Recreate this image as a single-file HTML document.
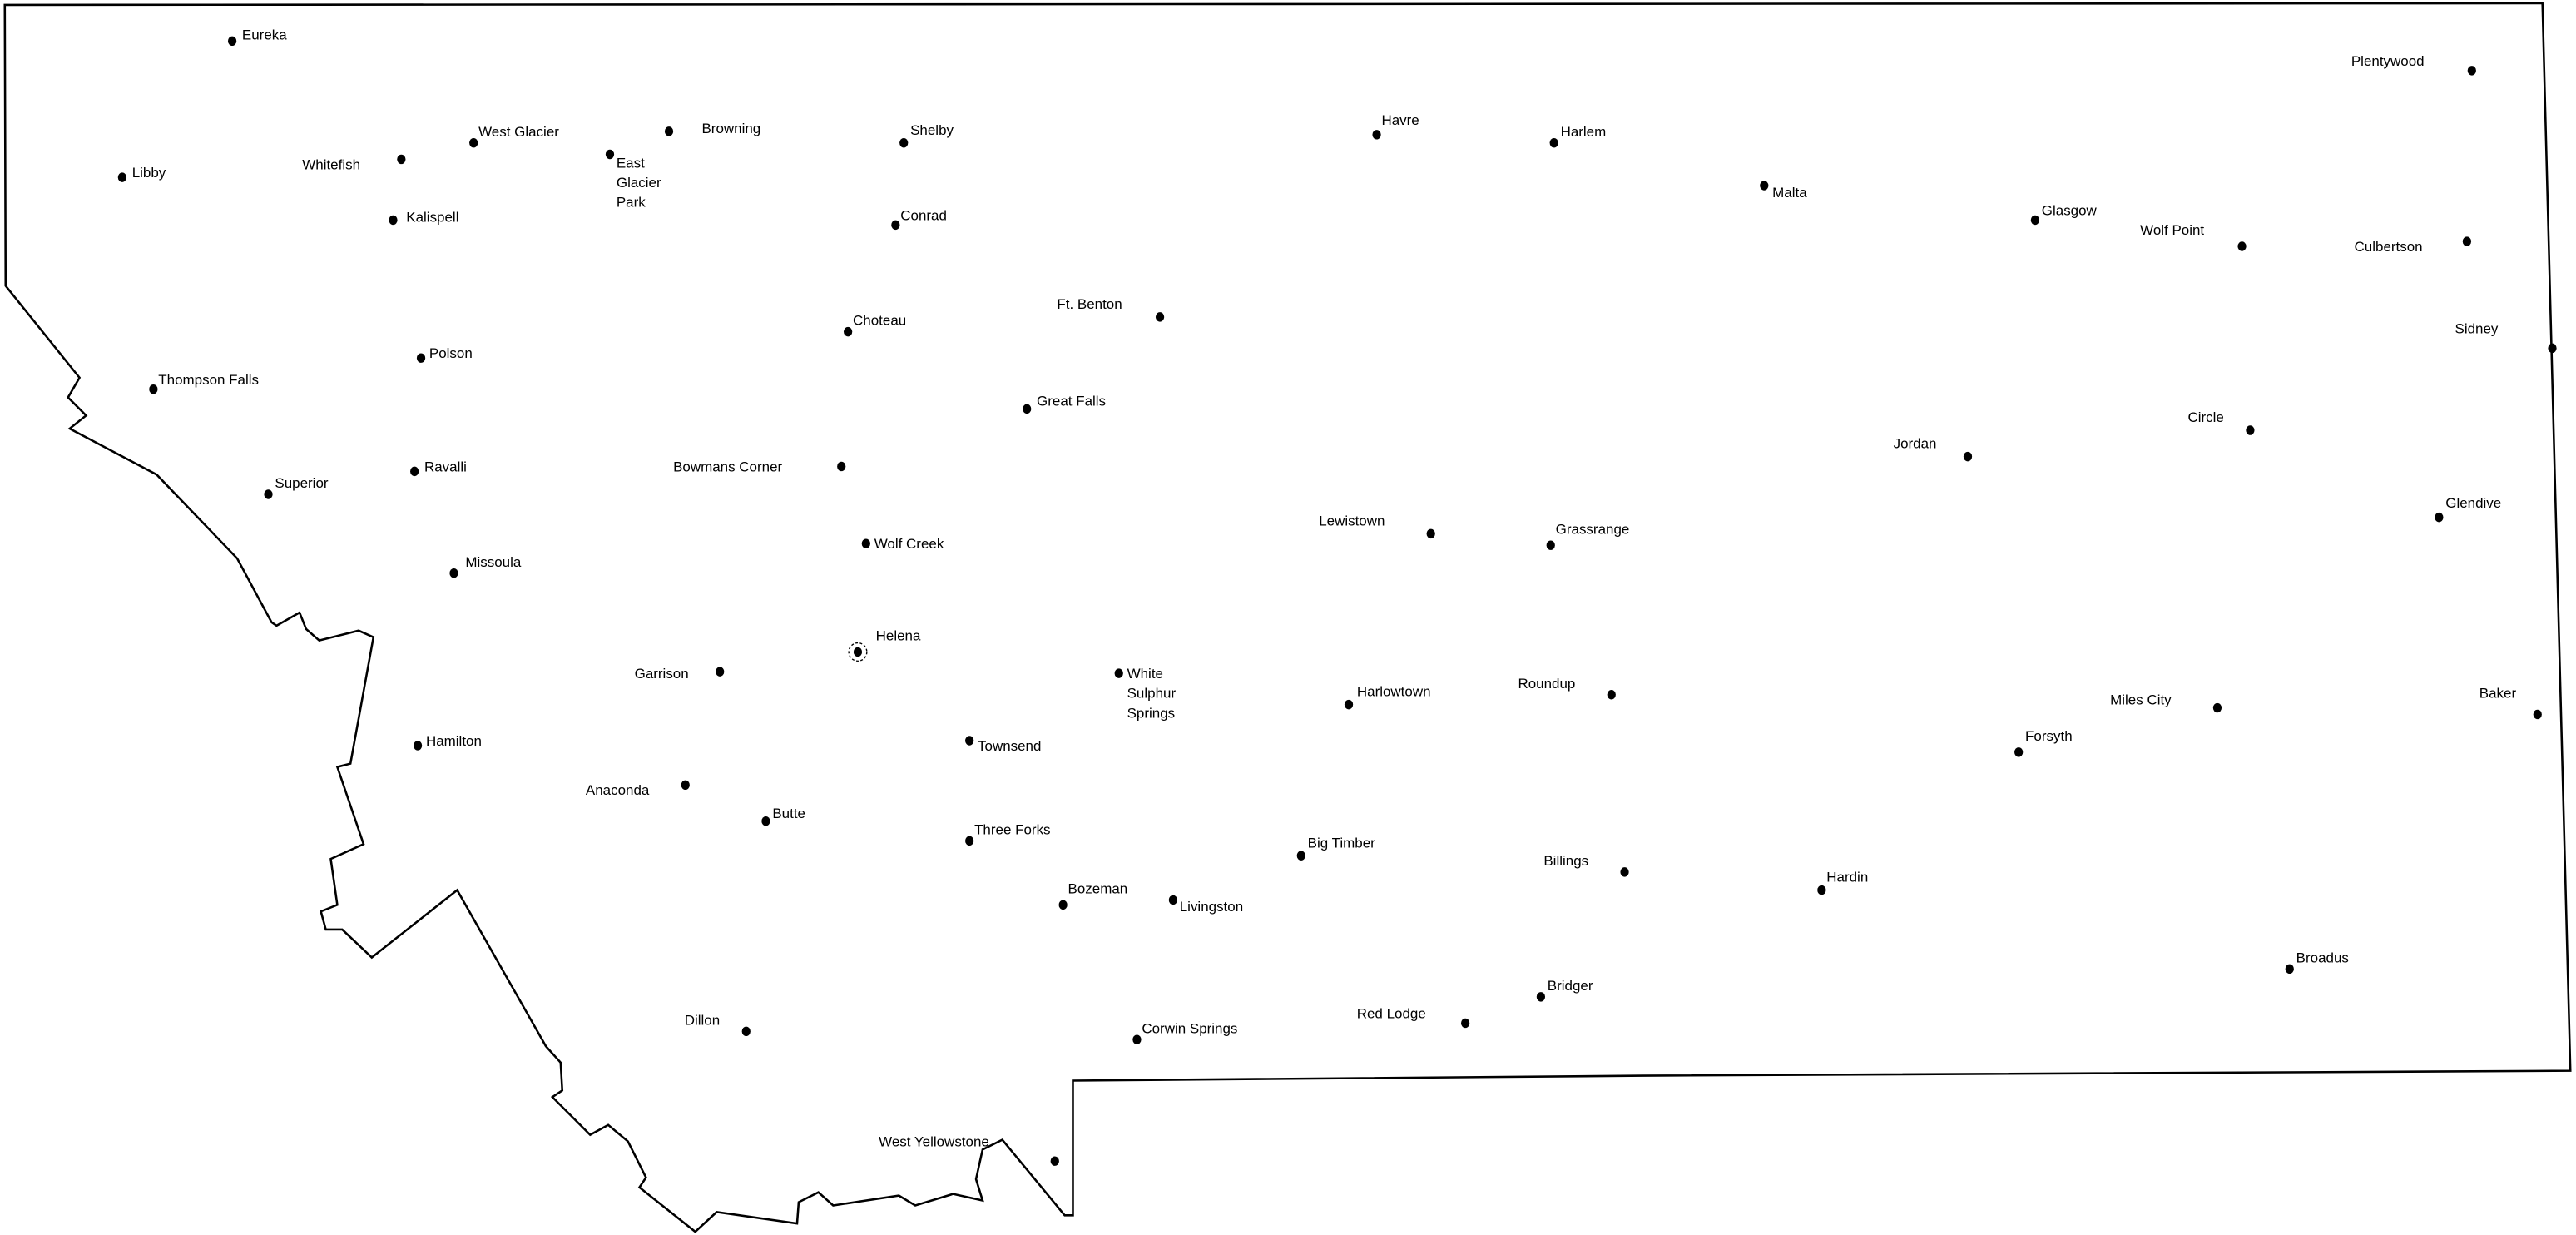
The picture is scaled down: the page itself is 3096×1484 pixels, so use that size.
<!DOCTYPE html>
<html><head><meta charset="utf-8"><style>
html,body{margin:0;padding:0;background:#fff;}
svg{display:block;}
text{font-family:"Liberation Sans",Arial,sans-serif;font-size:8.6px;fill:#000;}
.e{text-anchor:end;}
</style></head><body>
<svg width="3096" height="1484" viewBox="0 0 1568 752" xmlns="http://www.w3.org/2000/svg">
<rect width="1568" height="752" fill="#fff"/>
<polygon fill="none" stroke="#000" stroke-width="1.3" stroke-linejoin="miter" points="
2.5,3 1548,2 1565,652 1000,655 653,658 653,740 648,740 610,694 598,700 594,718 598,731 580,727 557,734 547,728 507,734 498,726 486,732 485,745 436,738 423,750 389,723 393,717 382,695 370,685 359,691 336,668 342,664 341,647 332,637 278,542 226,583 208,566 198,566 195,555 205,551 201,523 221,514 205,467 213,465 227,388 218,384 194,390 186,383 182,373 168,381 165,379 144,340 95,289 42,261 52,253 41,242 48,230 3,174"/>
<g fill="#000">
<ellipse cx="141" cy="25" rx="2.6" ry="2.9"/>
<ellipse cx="74" cy="108" rx="2.6" ry="2.9"/>
<ellipse cx="244" cy="97" rx="2.6" ry="2.9"/>
<ellipse cx="288" cy="87" rx="2.6" ry="2.9"/>
<ellipse cx="371" cy="94" rx="2.6" ry="2.9"/>
<ellipse cx="407" cy="80" rx="2.6" ry="2.9"/>
<ellipse cx="550" cy="87" rx="2.6" ry="2.9"/>
<ellipse cx="239" cy="134" rx="2.6" ry="2.9"/>
<ellipse cx="545" cy="137" rx="2.6" ry="2.9"/>
<ellipse cx="838" cy="82" rx="2.6" ry="2.9"/>
<ellipse cx="946" cy="87" rx="2.6" ry="2.9"/>
<ellipse cx="1074" cy="113" rx="2.6" ry="2.9"/>
<ellipse cx="1239" cy="134" rx="2.6" ry="2.9"/>
<ellipse cx="1365" cy="150" rx="2.6" ry="2.9"/>
<ellipse cx="1502" cy="147" rx="2.6" ry="2.9"/>
<ellipse cx="1505" cy="43" rx="2.6" ry="2.9"/>
<ellipse cx="1554" cy="212" rx="2.6" ry="2.9"/>
<ellipse cx="706" cy="193" rx="2.6" ry="2.9"/>
<ellipse cx="516" cy="202" rx="2.6" ry="2.9"/>
<ellipse cx="256" cy="218" rx="2.6" ry="2.9"/>
<ellipse cx="93" cy="237" rx="2.6" ry="2.9"/>
<ellipse cx="625" cy="249" rx="2.6" ry="2.9"/>
<ellipse cx="1198" cy="278" rx="2.6" ry="2.9"/>
<ellipse cx="1370" cy="262" rx="2.6" ry="2.9"/>
<ellipse cx="252" cy="287" rx="2.6" ry="2.9"/>
<ellipse cx="512" cy="284" rx="2.6" ry="2.9"/>
<ellipse cx="163" cy="301" rx="2.6" ry="2.9"/>
<ellipse cx="1485" cy="315" rx="2.6" ry="2.9"/>
<ellipse cx="871" cy="325" rx="2.6" ry="2.9"/>
<ellipse cx="944" cy="332" rx="2.6" ry="2.9"/>
<ellipse cx="527" cy="331" rx="2.6" ry="2.9"/>
<ellipse cx="276" cy="349" rx="2.6" ry="2.9"/>
<ellipse cx="522" cy="397" rx="2.6" ry="2.9"/>
<ellipse cx="438" cy="409" rx="2.6" ry="2.9"/>
<ellipse cx="681" cy="410" rx="2.6" ry="2.9"/>
<ellipse cx="821" cy="429" rx="2.6" ry="2.9"/>
<ellipse cx="981" cy="423" rx="2.6" ry="2.9"/>
<ellipse cx="1350" cy="431" rx="2.6" ry="2.9"/>
<ellipse cx="1545" cy="435" rx="2.6" ry="2.9"/>
<ellipse cx="1229" cy="458" rx="2.6" ry="2.9"/>
<ellipse cx="254" cy="454" rx="2.6" ry="2.9"/>
<ellipse cx="590" cy="451" rx="2.6" ry="2.9"/>
<ellipse cx="417" cy="478" rx="2.6" ry="2.9"/>
<ellipse cx="466" cy="500" rx="2.6" ry="2.9"/>
<ellipse cx="590" cy="512" rx="2.6" ry="2.9"/>
<ellipse cx="792" cy="521" rx="2.6" ry="2.9"/>
<ellipse cx="989" cy="531" rx="2.6" ry="2.9"/>
<ellipse cx="1109" cy="542" rx="2.6" ry="2.9"/>
<ellipse cx="647" cy="551" rx="2.6" ry="2.9"/>
<ellipse cx="714" cy="548" rx="2.6" ry="2.9"/>
<ellipse cx="1394" cy="590" rx="2.6" ry="2.9"/>
<ellipse cx="938" cy="607" rx="2.6" ry="2.9"/>
<ellipse cx="892" cy="623" rx="2.6" ry="2.9"/>
<ellipse cx="454" cy="628" rx="2.6" ry="2.9"/>
<ellipse cx="692" cy="633" rx="2.6" ry="2.9"/>
<ellipse cx="642" cy="707" rx="2.6" ry="2.9"/>
</g>
<circle cx="522" cy="397" r="5.5" fill="none" stroke="#000" stroke-width="0.7" stroke-dasharray="1.5,1.2"/>
<text x="147" y="24">Eureka</text>
<text x="80" y="108">Libby</text>
<text class="e" x="219" y="103">Whitefish</text>
<text x="291" y="83">West Glacier</text>
<text x="375" y="102">East</text>
<text x="375" y="114">Glacier</text>
<text x="375" y="126">Park</text>
<text x="427" y="81">Browning</text>
<text x="554" y="82">Shelby</text>
<text x="247" y="135">Kalispell</text>
<text x="548" y="134">Conrad</text>
<text x="841" y="76">Havre</text>
<text x="950" y="83">Harlem</text>
<text x="1079" y="120">Malta</text>
<text x="1243" y="131">Glasgow</text>
<text class="e" x="1342" y="143">Wolf Point</text>
<text class="e" x="1475" y="153">Culbertson</text>
<text class="e" x="1476" y="40">Plentywood</text>
<text class="e" x="1521" y="203">Sidney</text>
<text class="e" x="683" y="188">Ft. Benton</text>
<text x="519" y="198">Choteau</text>
<text x="261" y="218">Polson</text>
<text x="96" y="234">Thompson Falls</text>
<text x="631" y="247">Great Falls</text>
<text class="e" x="1179" y="273">Jordan</text>
<text class="e" x="1354" y="257">Circle</text>
<text x="258" y="287">Ravalli</text>
<text class="e" x="476" y="287">Bowmans Corner</text>
<text x="167" y="297">Superior</text>
<text x="1489" y="309">Glendive</text>
<text class="e" x="843" y="320">Lewistown</text>
<text x="947" y="325">Grassrange</text>
<text x="532" y="334">Wolf Creek</text>
<text x="283" y="345">Missoula</text>
<text x="533" y="390">Helena</text>
<text class="e" x="419" y="413">Garrison</text>
<text x="686" y="413">White</text>
<text x="686" y="425">Sulphur</text>
<text x="686" y="437">Springs</text>
<text x="826" y="424">Harlowtown</text>
<text class="e" x="959" y="419">Roundup</text>
<text class="e" x="1322" y="429">Miles City</text>
<text class="e" x="1532" y="425">Baker</text>
<text x="1233" y="451">Forsyth</text>
<text x="259" y="454">Hamilton</text>
<text x="595" y="457">Townsend</text>
<text class="e" x="395" y="484">Anaconda</text>
<text x="470" y="498">Butte</text>
<text x="593" y="508">Three Forks</text>
<text x="796" y="516">Big Timber</text>
<text class="e" x="967" y="527">Billings</text>
<text x="1112" y="537">Hardin</text>
<text x="650" y="544">Bozeman</text>
<text x="718" y="555">Livingston</text>
<text x="1398" y="586">Broadus</text>
<text x="942" y="603">Bridger</text>
<text class="e" x="868" y="620">Red Lodge</text>
<text class="e" x="438" y="624">Dillon</text>
<text x="695" y="629">Corwin Springs</text>
<text class="e" x="602" y="698">West Yellowstone</text>
</svg>
</body></html>
